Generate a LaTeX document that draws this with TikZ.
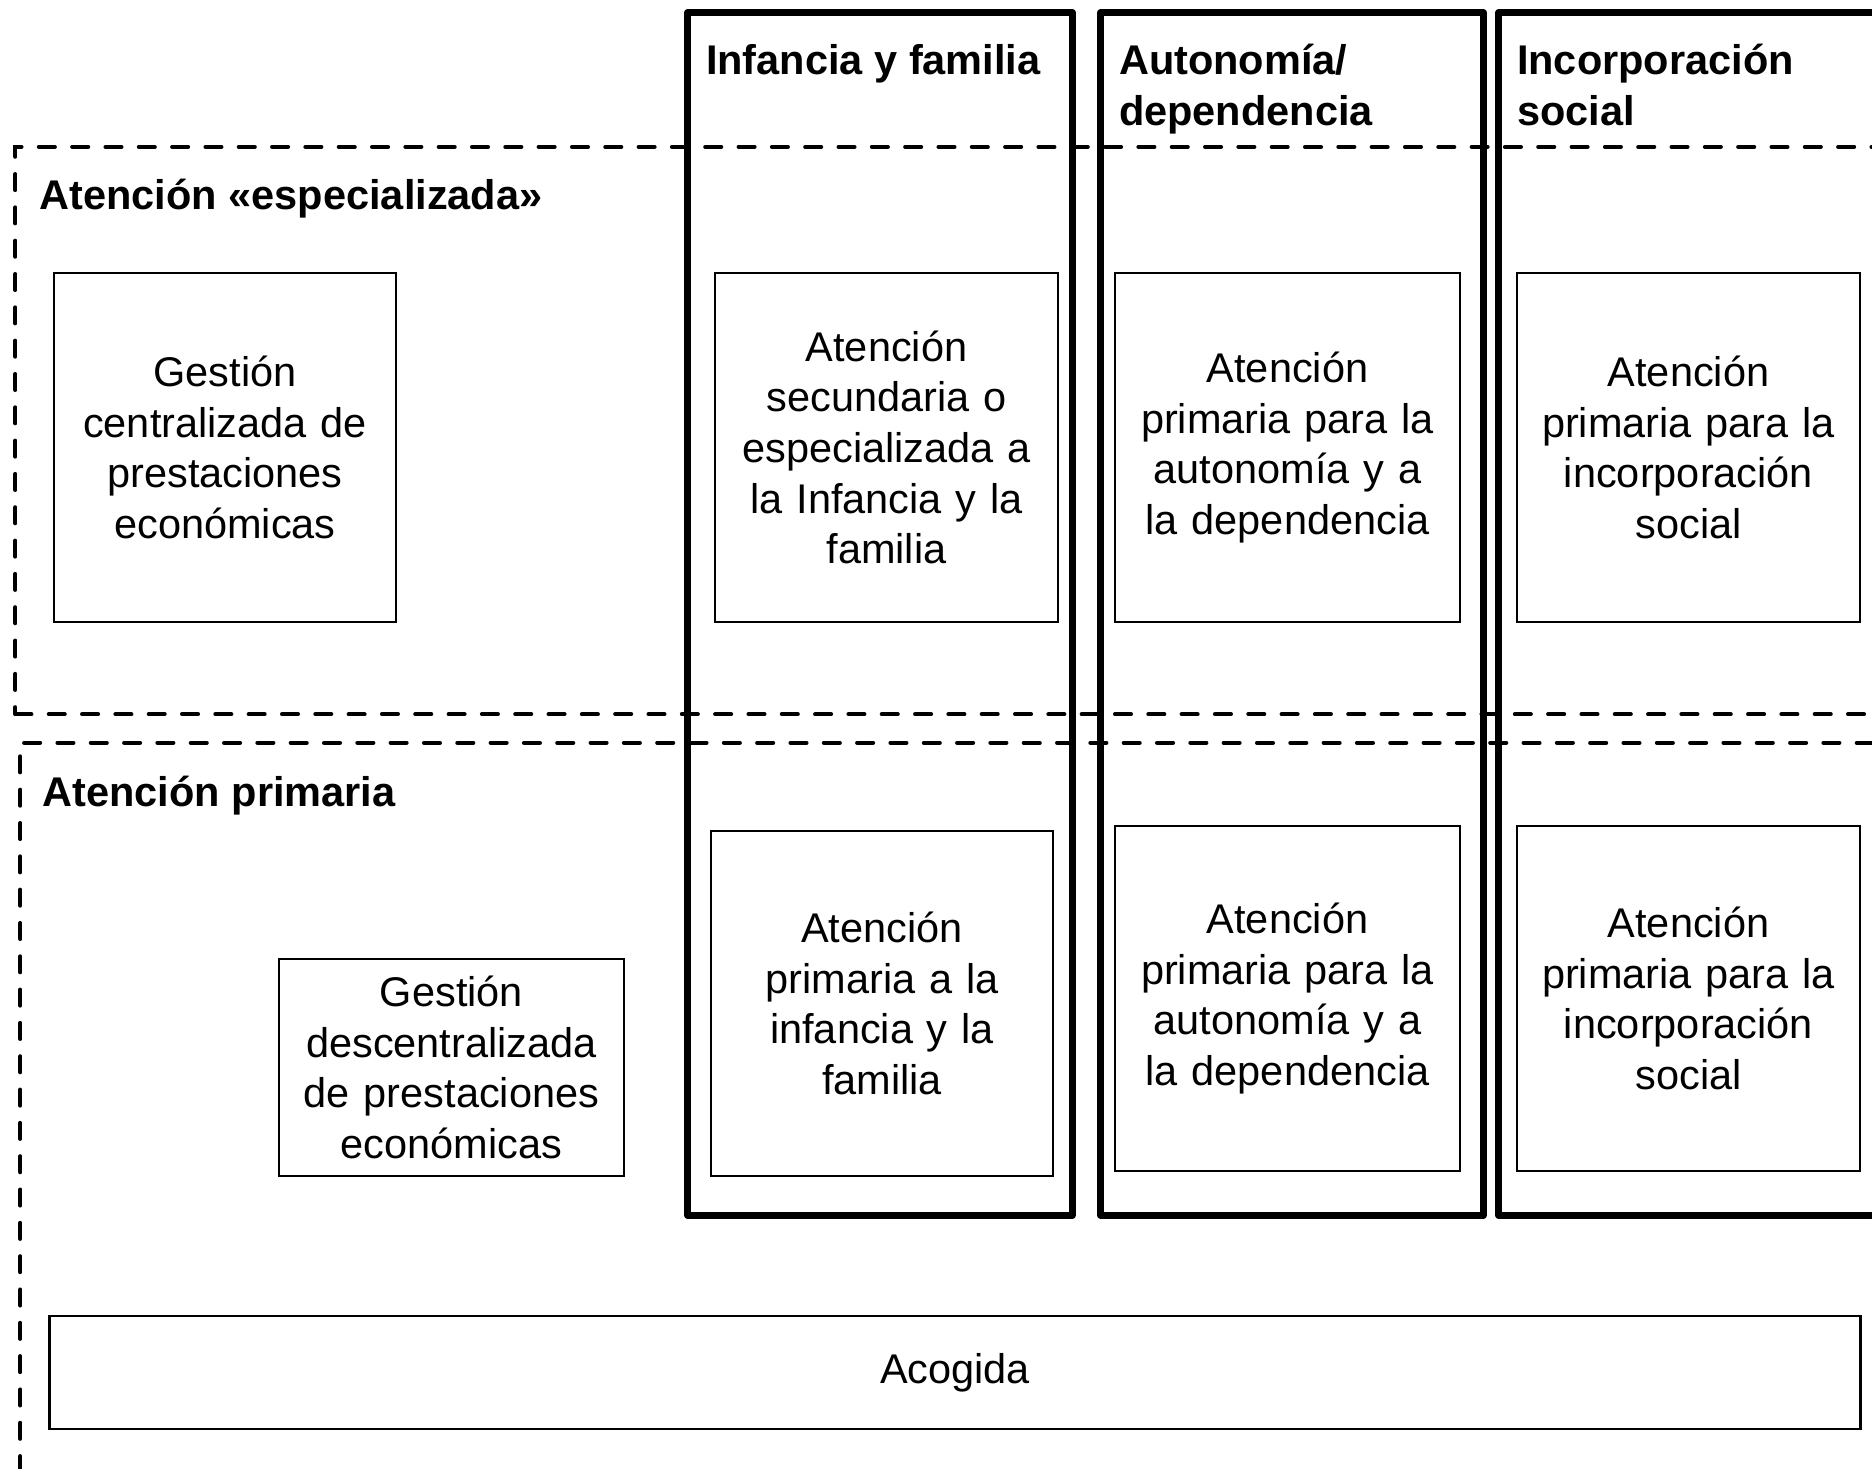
\documentclass[tikz,border=0pt]{standalone}
\usepackage{fontspec}
\setmainfont{Liberation Sans}
\begin{document}
\begin{tikzpicture}[x=0.01cm, y=-0.01cm,
    every node/.style={font=\fontsize{11.8}{14.4}\selectfont},
    caja/.style={draw, line width=0.6pt, inner sep=0pt, align=center, text width=3.3cm, minimum width=3.42cm, minimum height=3.49cm},
    columna/.style={draw, line width=2pt, line join=round, inner sep=0pt, minimum height=12.02cm},
    nivel/.style={draw, line width=1.15pt, line cap=round, dash pattern=on 0.16cm off 0.173cm, inner sep=0pt},
    titulo/.style={font=\bfseries\fontsize{11.8}{14.4}\selectfont, anchor=north west, inner sep=0pt, align=left}]
    \clip (0,0) rectangle (1872,1468);

    % niveles de atencion
    \node[nivel, minimum width=19.84cm, minimum height=5.67cm] (especializada) at (1008,430.5) {};
    \node[nivel, minimum width=19.79cm, minimum height=8.57cm] (primaria) at (1010.5,1171.5) {};
    \node[titulo, anchor=base west] (t-esp) at (39,209) {Atención «especializada»};
    \node[titulo, anchor=base west] (t-pri) at (42,806) {Atención primaria};

    % columnas
    \node[columna, minimum width=3.84cm] (infancia) at (880,614) {};
    \node[columna, minimum width=3.82cm] (autonomia) at (1292,614) {};
    \node[columna, minimum width=5.01cm] (incorporacion) at (1749.5,614) {};
    \node[titulo] (t-inf) at ([xshift=0.21cm, yshift=-0.295cm]infancia.north west) {\strut Infancia y familia};
    \node[titulo] (t-aut) at ([xshift=0.21cm, yshift=-0.295cm]autonomia.north west) {\strut Autonomía/\\dependencia};
    \node[titulo] (t-inc) at ([xshift=0.21cm, yshift=-0.295cm]incorporacion.north west) {\strut Incorporación\\social};

    \node[caja] (centralizada) at (225,447.5) {Gestión\\centralizada de\\prestaciones\\económicas};
    \node[caja] (inf-esp) at (886.5,447.5) {Atención\\secundaria o\\especializada a\\la Infancia y la\\familia};
    \node[caja, minimum width=3.45cm] (aut-esp) at (1287.5,447.5) {Atención\\primaria para la\\autonomía y a\\la dependencia};
    \node[caja] (inc-esp) at (1688.5,447.5) {Atención\\primaria para la\\incorporación\\social};

    \node[caja, minimum width=3.45cm, minimum height=2.17cm] (descentralizada) at (451.5,1067.5) {Gestión\\descentralizada\\de prestaciones\\económicas};
    \node[caja, minimum height=3.45cm] (inf-pri) at (882,1003.5) {Atención\\primaria a la\\infancia y la\\familia};
    \node[caja, minimum width=3.45cm, minimum height=3.45cm] (aut-pri) at (1287.5,998.5) {Atención\\primaria para la\\autonomía y a\\la dependencia};
    \node[caja, minimum height=3.45cm] (inc-pri) at (1688.5,998.5) {Atención\\primaria para la\\incorporación\\social};

    \node[caja, text width=18cm, minimum width=18.1cm, minimum height=1.13cm] (acogida) at (955,1372.5) {Acogida};
\end{tikzpicture}
\end{document}
